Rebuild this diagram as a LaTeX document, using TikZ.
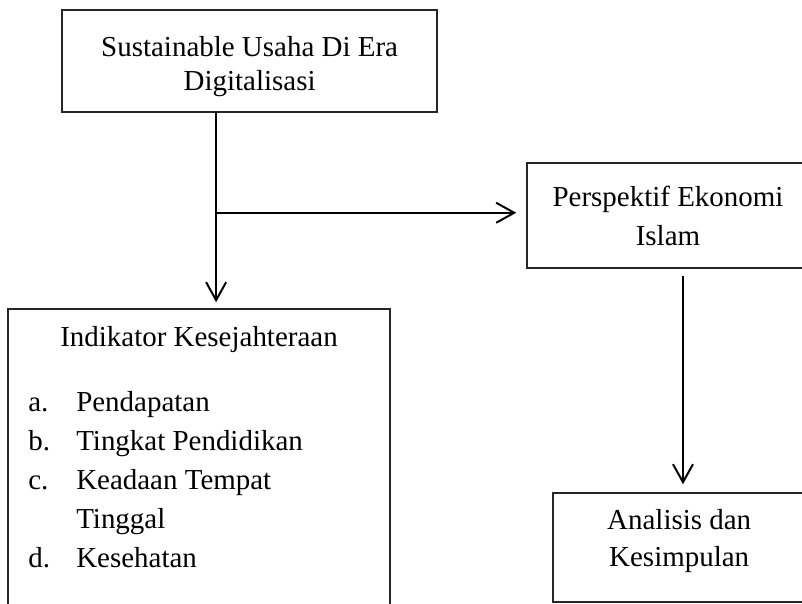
\documentclass[tikz,border=0pt]{standalone}
\usepackage{fontspec}
\setmainfont{Liberation Serif}
\usetikzlibrary{positioning,calc,arrows.meta}

\begin{document}
\begin{tikzpicture}[
    box/.style={draw=black!85, line width=1.1pt, inner sep=0pt, align=center, font=\fontsize{20.6}{27.7}\selectfont},
    txt/.style={font=\fontsize{20.6}{27.7}\selectfont, inner sep=0pt, align=center},
    arr/.style={-{Straight Barb[length=0.45cm, width=0.5cm]}, line width=1.4pt}
]
    \useasboundingbox (0,0) rectangle (20.05,15.1);
    \clip (0,0) rectangle (20.05,15.1);

    % Topik utama
    \node[box, minimum width=9.375cm, minimum height=2.55cm] (usaha) at (6.24,13.575) {};
    \node[txt, font=\fontsize{20.6}{24.2}\selectfont] (usaha-teks) at ($(usaha)+(0,-0.15)$) {Sustainable Usaha Di Era\\Digitalisasi};

    % Perspektif
    \node[box, minimum width=7.05cm, minimum height=2.625cm] (perspektif) at (16.7,9.7125) {Perspektif Ekonomi\\Islam};

    % Indikator
    \node[box, minimum width=9.55cm, minimum height=7.775cm] (indikator) at (4.975,3.4875) {};
    \node[txt, anchor=base] (judul) at (4.975,6.425) {Indikator Kesejahteraan};
    \node[txt, anchor=base west] (ha) at (0.7,4.8) {a.};
    \node[txt, anchor=base west] (pendapatan) at (1.9,4.8) {Pendapatan};
    \node[txt, anchor=base west] (hb) at (0.7,3.83) {b.};
    \node[txt, anchor=base west] (pendidikan) at (1.9,3.83) {Tingkat Pendidikan};
    \node[txt, anchor=base west] (hc) at (0.7,2.86) {c.};
    \node[txt, anchor=base west] (tempat) at (1.9,2.86) {Keadaan Tempat};
    \node[txt, anchor=base west] (tinggal) at (1.9,1.89) {Tinggal};
    \node[txt, anchor=base west] (hd) at (0.7,0.92) {d.};
    \node[txt, anchor=base west] (kesehatan) at (1.9,0.92) {Kesehatan};

    % Analisis
    \node[box, minimum width=6.35cm, minimum height=2.725cm] (analisis) at (17.0,1.4125) {};
    \node[txt, font=\fontsize{20.6}{26.3}\selectfont] (analisis-teks) at ($(analisis)+(-0.02,0.15)$) {Analisis dan\\Kesimpulan};

    % Panah
    \coordinate (cabang) at ($(usaha.south)+(-0.8375,-2.5)$);
    \draw[arr, shorten >=0.15cm] ([xshift=-0.8375cm]usaha.south) -- ([xshift=-0.8375cm]usaha.south |- indikator.north);
    \draw[arr, shorten >=0.25cm] (cabang) -- (cabang -| perspektif.west);
    \draw[arr, shorten <=0.175cm, shorten >=0.2cm] ([xshift=0.375cm]perspektif.south) -- ([xshift=0.375cm]perspektif.south |- analisis.north);
\end{tikzpicture}
\end{document}
